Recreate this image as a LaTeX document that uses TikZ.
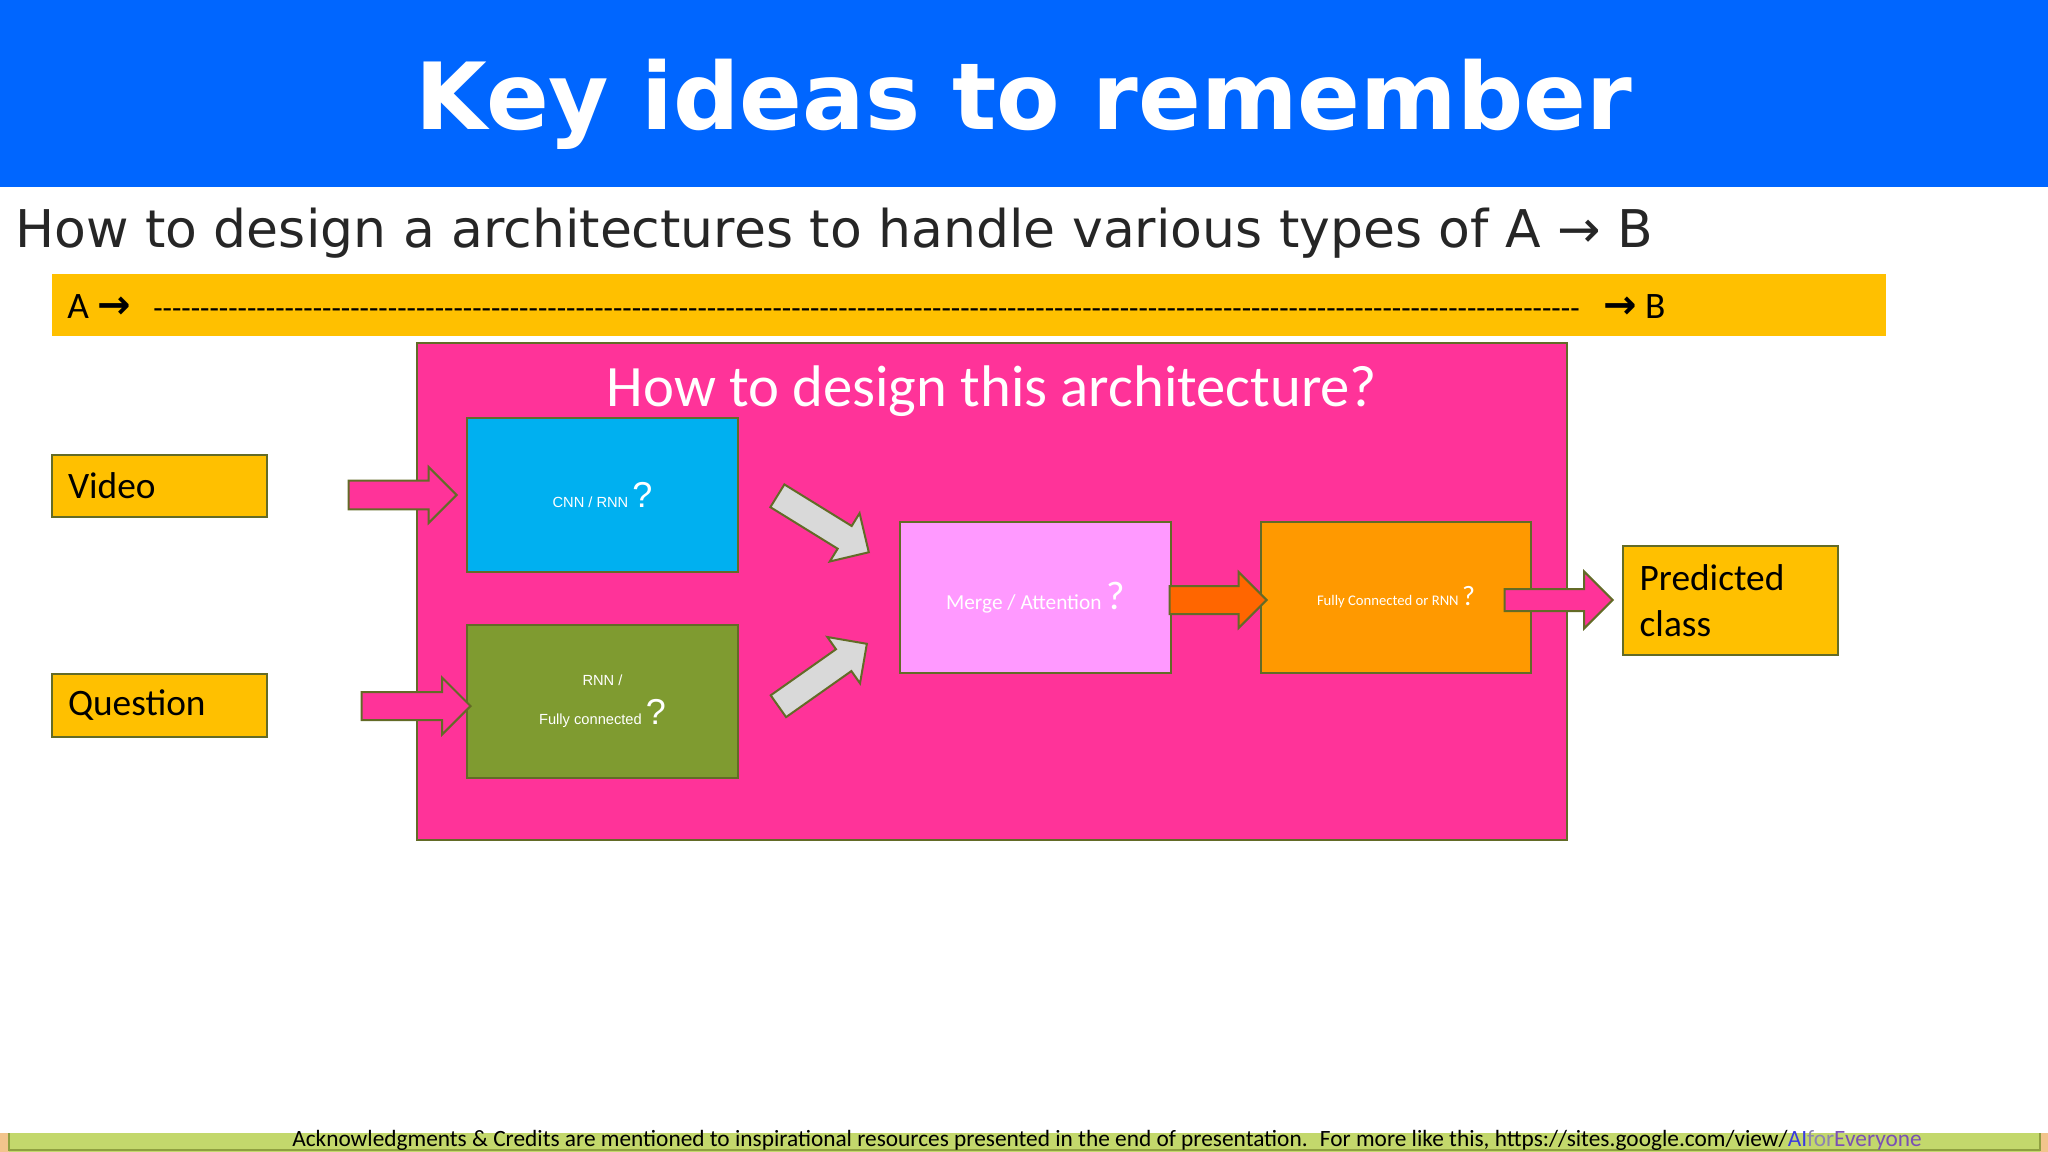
\documentclass[tikz,border=0pt]{standalone}
\usepackage{fontspec}
\setmainfont{Carlito}
\newfontfamily\verdanafont{DejaVu Sans}
\newfontfamily\arialfont{Liberation Sans}
\usetikzlibrary{shapes.arrows}

\definecolor{titleblue}{HTML}{0066FF}
\definecolor{bandyellow}{HTML}{FFC000}
\definecolor{hotpink}{HTML}{FF3399}
\definecolor{edgeolive}{HTML}{636B27}
\definecolor{cnnblue}{HTML}{00B0F0}
\definecolor{rnngreen}{HTML}{7F9B30}
\definecolor{mergepink}{HTML}{FF99FF}
\definecolor{fcorange}{HTML}{FF9900}
\definecolor{arroworange}{HTML}{FF6600}
\definecolor{arrowgray}{HTML}{D9D9D9}
\definecolor{footgreen}{HTML}{C3D86C}
\definecolor{footedge}{HTML}{8FA040}
\definecolor{foottan}{HTML}{F2C48C}
\definecolor{linkblue}{HTML}{3B3BE0}
\definecolor{linkgray}{HTML}{8C84B0}
\definecolor{linkpurple}{HTML}{7A4FB5}

\tikzset{
  box/.style={draw=edgeolive, line width=1.5pt, minimum width=203.25pt, inner sep=0pt, text=white, align=center},
  inbox/.style={draw=edgeolive, line width=1.2pt, fill=bandyellow, minimum width=161.25pt, text width=137.25pt, inner xsep=12pt, inner ysep=0pt, align=left, font=\fontsize{28}{34.5}\selectfont},
  blockarrow/.style={single arrow, draw=edgeolive, line width=1.5pt, single arrow tip angle=90, inner xsep=0pt, minimum width=0pt, anchor=tip},
}

\newcommand{\dashrow}{\foreach \i in {1,...,152}{-\kern0pt}}
\newcommand{\bandarrow}{{\verdanafont\bfseries\fontsize{30}{34}\selectfont →}}

\begin{document}
\begin{tikzpicture}[x=0.75pt,y=0.75pt,yscale=-1,xscale=1]
        \useasboundingbox (0,0) rectangle (2048,1152);

        %Shape: Title Bar
        \fill [titleblue] (0,0) rectangle (2048,187) ;
        % Text Node
        \node [anchor=base, inner sep=0pt, text=white] (title) at (1024,130) {\verdanafont\bfseries\fontsize{69.5}{80}\selectfont Key ideas to remember};
        % Text Node
        \node [anchor=base west, inner sep=0pt, text=black!85] (subtitle) at (15,247) {\verdanafont\fontsize{39}{46}\selectfont How to design a architectures to handle various types of A → B};

        %Shape: Band
        \fill [bandyellow] (52,274) rectangle (1886,336) ;
        % Text Node
        \node [anchor=base west, inner sep=0pt] (banda) at (67,318) {\fontsize{28}{32}\selectfont A \bandarrow};
        % Text Node
        \node [anchor=base west, inner sep=0pt] (banddash) at (153,318) {\fontsize{23}{28}\selectfont\dashrow};
        % Text Node
        \node [anchor=base west, inner sep=0pt] (bandb) at (1603,318) {\fontsize{28}{32}\selectfont\bandarrow\ B};

        %Shape: Architecture Frame
        \node [draw=edgeolive, fill=hotpink, line width=1.5pt, minimum width=862.5pt, minimum height=372.75pt] (archbox) at (992,591.5) {};
        % Text Node
        \node [anchor=base, inner sep=0pt, text=white] (archtitle) at (992,406) {\fontsize{44}{52}\selectfont How to design this architecture?};

        %Shape: Rectangles
        \node [box, fill=cnnblue, minimum height=115.5pt] (cnn) at (602.5,495) {\arialfont\fontsize{11}{13}\selectfont CNN / RNN {\fontsize{27}{30}\selectfont ?}};
        \node [box, fill=rnngreen, minimum height=114.75pt, font=\arialfont\fontsize{11}{29}\selectfont] (rnnfc) at (602.5,701.5) {RNN /\\Fully connected {\fontsize{27}{29}\selectfont ?}};
        \node [box, fill=mergepink, minimum height=113.25pt] (merge) at (1035.5,597.5) {\fontsize{16}{19}\selectfont Merge / Attention {\fontsize{30}{34}\selectfont ?}};
        \node [box, fill=fcorange, minimum width=202.5pt, minimum height=113.25pt] (fcrnn) at (1396,597.5) {\fontsize{11}{13}\selectfont Fully Connected or RNN {\fontsize{21}{24}\selectfont ?}};

        %Shape: Input and Output
        \node [inbox, minimum height=46.5pt] (video) at (159.5,486) {Video};
        \node [inbox, minimum height=47.25pt] (question) at (159.5,705.5) {Question};
        \node [inbox, minimum height=81.75pt, inner xsep=12.5pt, text width=136.25pt] (predicted) at (1730.5,600.5) {Predicted\\class};

        %Shape: Right Arrows
        \node [blockarrow, fill=hotpink, minimum height=81pt, inner ysep=10.1pt, single arrow head extend=10.1pt] (videoarrow) at (458,495) {};
        \node [blockarrow, fill=hotpink, minimum height=81.75pt, inner ysep=9.75pt, single arrow head extend=10.9pt] (questionarrow) at (472,706) {};
        \node [blockarrow, fill=arrowgray, minimum height=80.6pt, inner ysep=9.26pt, single arrow head extend=11.25pt, rotate=-31.7] (cnnarrow) at (870,553) {};
        \node [blockarrow, fill=arrowgray, minimum height=81.2pt, inner ysep=9.26pt, single arrow head extend=11.25pt, rotate=35.2] (rnnarrow) at (868,643) {};
        \node [blockarrow, fill=arroworange, minimum height=72.75pt, inner ysep=9.75pt, single arrow head extend=10.5pt] (mergearrow) at (1268,600) {};
        \node [blockarrow, fill=hotpink, minimum height=81pt, inner ysep=7.5pt, single arrow head extend=13.1pt] (classarrow) at (1614,600) {};

        %Shape: Footer
        \fill [foottan] (0,1133) rectangle (2048,1152) ;
        \fill [footgreen] (9,1133) rectangle (2040,1152) ;
        \draw [footedge, line width=1.5pt] (9,1133) -- (9,1150) -- (2040,1150) -- (2040,1133) ;
        % Text Node
        \node [anchor=base west, inner sep=0pt] (credits) at (292,1146) {\fontsize{17.5}{20}\selectfont Acknowledgments \& Credits are mentioned to inspirational resources presented in the end of presentation.~ For more like this, https://sites.google.com/view/\textcolor{linkblue}{AI}\textcolor{linkgray}{for}\textcolor{linkpurple}{Everyone}};

\end{tikzpicture}
\end{document}
